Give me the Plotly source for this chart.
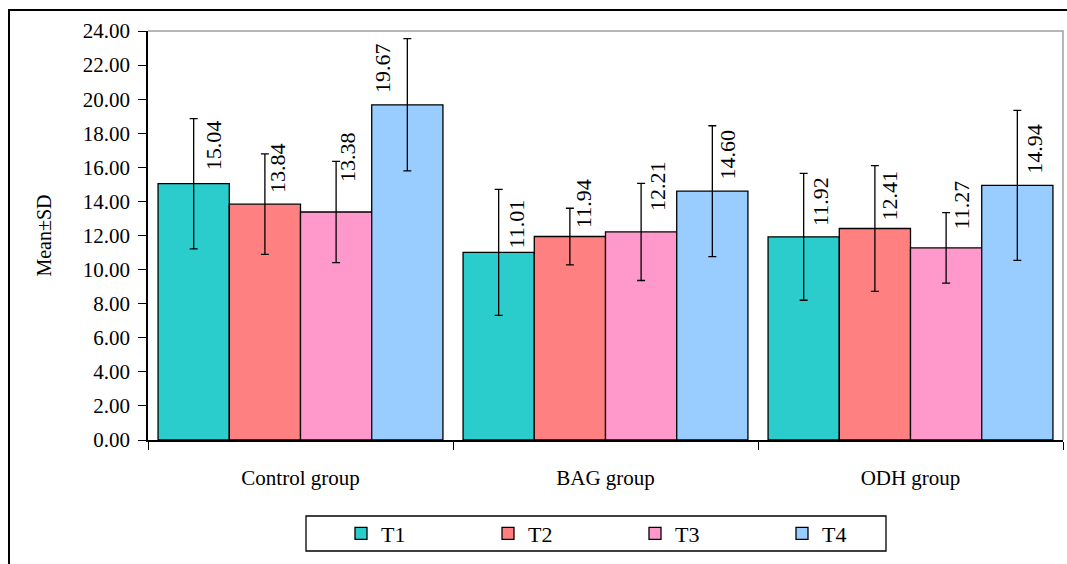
import plotly.graph_objects as go

# ---- data ----
categories = ["Control group", "BAG group", "ODH group"]
series_names = ["T1", "T2", "T3", "T4"]
means_T1 = [15.04, 11.01, 11.92]
means_T2 = [13.84, 11.94, 12.41]
means_T3 = [13.38, 12.21, 11.27]
means_T4 = [19.67, 14.60, 14.94]
sd_T1 = [3.82, 3.70, 3.72]
sd_T2 = [2.95, 1.66, 3.69]
sd_T3 = [2.97, 2.85, 2.07]
sd_T4 = [3.88, 3.84, 4.40]
y_ticks = [0, 2, 4, 6, 8, 10, 12, 14, 16, 18, 20, 22, 24]

# ---- style ----
colors = ["#2ACCCC", "#FF8080", "#FF99CC", "#99CCFF"]
FONT = "Liberation Serif, Times New Roman, serif"
W, H = 1067, 564
L, R, T, B = 148, 4, 31, 124
BARGAP = 0.066
# label pixel offsets (xshift, yshift) per series per group
label_dx = [[20, 18, 17], [12, 13, 15], [12, 17, 15], [-25, 15, 17]]
label_dy = [[11, 2, 9], [9, 7, 6], [28, 19, 16], [10, 10, 10]]

means = [means_T1, means_T2, means_T3, means_T4]
sds = [sd_T1, sd_T2, sd_T3, sd_T4]

fig = go.Figure()
for j, name in enumerate(series_names):
    fig.add_trace(go.Bar(
        name=name, x=categories, y=means[j],
        marker=dict(color=colors[j], line=dict(color="black", width=1.3)),
        error_y=dict(type="data", array=sds[j], visible=True,
                     color="black", thickness=1.3, width=4),
    ))

pw = W - L - R
ph = H - T - B
def px_x(p):
    return (p - L) / pw
def px_y(p):
    return (H - B - p) / ph

annotations = []
n = len(series_names)
gw = 1 - BARGAP
for j in range(n):
    for i in range(len(categories)):
        xc = i - gw / 2 + (j + 0.5) * gw / n
        annotations.append(dict(
            x=xc, y=means[j][i], xref="x", yref="y",
            text=f"{means[j][i]:.2f}", showarrow=False,
            textangle=-90, xanchor="center", yanchor="bottom",
            xshift=label_dx[j][i], yshift=label_dy[j][i],
            font=dict(family=FONT, size=22, color="black"),
        ))

shapes = [
    # plot area border (top & right), gray
    dict(type="path", xref="paper", yref="paper",
         path="M 0,1 L 1,1 L 1,0", line=dict(color="#A0A0A0", width=1.5)),
    # legend box
    dict(type="rect", xref="paper", yref="paper",
         x0=px_x(306), x1=px_x(886), y0=px_y(551), y1=px_y(516),
         line=dict(color="black", width=1.3), fillcolor="rgba(0,0,0,0)"),
    # outer chart border (top and left)
    dict(type="path", xref="paper", yref="paper",
         path=f"M {px_x(9)},{px_y(580)} L {px_x(9)},{px_y(10)} L {px_x(1080)},{px_y(10)}",
         line=dict(color="black", width=2)),
]

fig.update_layout(
    width=W, height=H,
    margin=dict(l=L, r=R, t=T, b=B, pad=0, autoexpand=False),
    paper_bgcolor="white", plot_bgcolor="white",
    barmode="group", bargap=BARGAP, bargroupgap=0,
    font=dict(family=FONT, size=20, color="black"),
    showlegend=True,
    legend=dict(orientation="h", x=px_x(341), xanchor="left",
                y=px_y(533.5), yanchor="middle",
                entrywidth=102, entrywidthmode="pixels",
                bgcolor="rgba(0,0,0,0)", borderwidth=0,
                font=dict(family=FONT, size=22, color="black"),
                traceorder="normal"),
    annotations=annotations,
    shapes=shapes,
)
fig.update_xaxes(
    type="category", showline=True, linecolor="black", linewidth=1.5,
    ticks="outside", tickson="boundaries", ticklen=8, tickcolor="black",
    tickwidth=1.3, showgrid=False, ticklabelstandoff=18,
    tickfont=dict(family=FONT, size=21, color="black"),
)
fig.update_yaxes(
    range=[0, 24], tickvals=y_ticks, tickformat=".2f",
    showline=True, linecolor="black", linewidth=1.5,
    ticks="outside", ticklen=8, tickcolor="black", tickwidth=1.3,
    showgrid=False, zeroline=False, ticklabelstandoff=4,
    tickfont=dict(family=FONT, size=21, color="black"),
    title=dict(text="Mean±SD", standoff=26,
               font=dict(family=FONT, size=20, color="black")),
)

fig.write_html("out.html",
               config={"displayModeBar": False},
               post_script="document.body.style.margin='0px';")
